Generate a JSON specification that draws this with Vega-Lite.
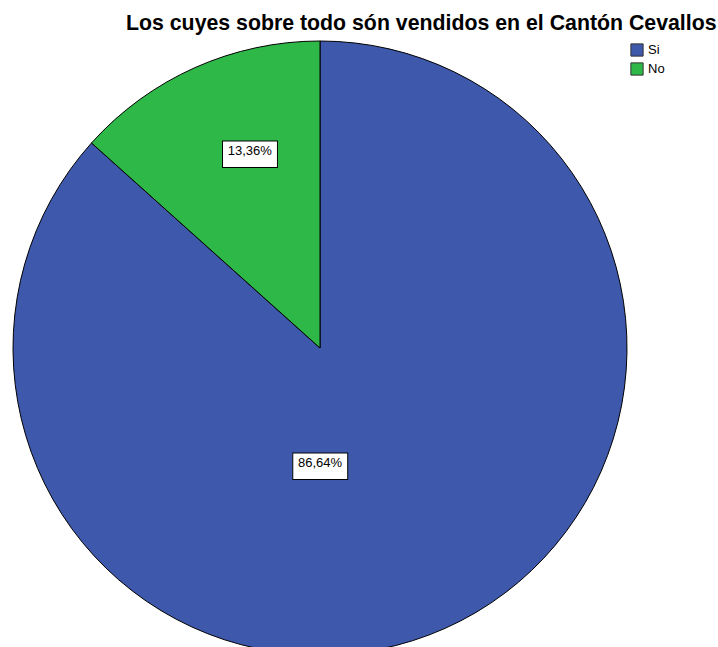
{
  "$schema": "https://vega.github.io/schema/vega-lite/v6.json",
  "width": 640,
  "height": 616,
  "autosize": "none",
  "padding": {"top": 40, "left": 0, "right": 78, "bottom": 0},
  "background": "white",
  "title": {
    "text": "Los cuyes sobre todo són vendidos en el Cantón Cevallos",
    "font": "Liberation Sans",
    "fontSize": 21.3,
    "fontWeight": "bold",
    "color": "black",
    "anchor": "start",
    "dx": 126,
    "offset": 5
  },
  "data": {
    "values": [
      {"Respuesta": "Si", "Porcentaje": 86.64, "Etiqueta": "86,64%"},
      {"Respuesta": "No", "Porcentaje": 13.36, "Etiqueta": "13,36%"}
    ]
  },
  "transform": [
    {
      "stack": "Porcentaje",
      "groupby": [],
      "sort": [{"field": "Respuesta", "order": "descending"}],
      "as": ["inicio", "fin"]
    }
  ],
  "layer": [
    {
      "mark": {"type": "arc", "radius": 307, "stroke": "black", "strokeWidth": 1},
      "encoding": {
        "theta": {"field": "inicio", "type": "quantitative", "scale": {"domain": [0, 100]}},
        "theta2": {"field": "fin"},
        "color": {
          "field": "Respuesta",
          "type": "nominal",
          "sort": ["Si", "No"],
          "scale": {"domain": ["Si", "No"], "range": ["#3E58AC", "#2EB848"]},
          "legend": {
            "title": null,
            "orient": "none",
            "legendX": 630,
            "legendY": 3,
            "symbolType": "square",
            "symbolSize": 150,
            "symbolStrokeColor": "#333333",
            "symbolStrokeWidth": 1,
            "symbolOpacity": 1,
            "labelFont": "Liberation Sans",
            "labelFontSize": 13,
            "labelColor": "black",
            "labelOffset": 4,
            "rowPadding": 1
          }
        }
      }
    },
    {
      "transform": [{"filter": "datum.Respuesta == 'No'"}],
      "encoding": {"theta": {"field": "inicio", "type": "quantitative", "scale": {"domain": [0, 100]}}},
      "layer": [
        {
          "mark": {"type": "text", "radius": 209, "thetaOffset": 0.497, "text": "▬", "font": "DejaVu Sans", "fontSize": 72, "fill": "white", "stroke": "black", "strokeWidth": 1, "baseline": "middle", "align": "center"}
        },
        {
          "mark": {"type": "text", "radius": 209, "thetaOffset": 0.497, "font": "Liberation Sans", "fontSize": 13, "color": "black", "baseline": "middle", "align": "center"},
          "encoding": {"text": {"field": "Etiqueta"}}
        }
      ]
    },
    {
      "transform": [{"filter": "datum.Respuesta == 'Si'"}],
      "encoding": {"theta": {"field": "inicio", "type": "quantitative", "scale": {"domain": [0, 100]}}},
      "layer": [
        {
          "mark": {"type": "text", "radius": 115, "thetaOffset": 3.1416, "text": "▬", "font": "DejaVu Sans", "fontSize": 72, "fill": "white", "stroke": "black", "strokeWidth": 1, "baseline": "middle", "align": "center"}
        },
        {
          "mark": {"type": "text", "radius": 115, "thetaOffset": 3.1416, "font": "Liberation Sans", "fontSize": 13, "color": "black", "baseline": "middle", "align": "center"},
          "encoding": {"text": {"field": "Etiqueta"}}
        }
      ]
    }
  ],
  "config": {"view": {"stroke": null}}
}
